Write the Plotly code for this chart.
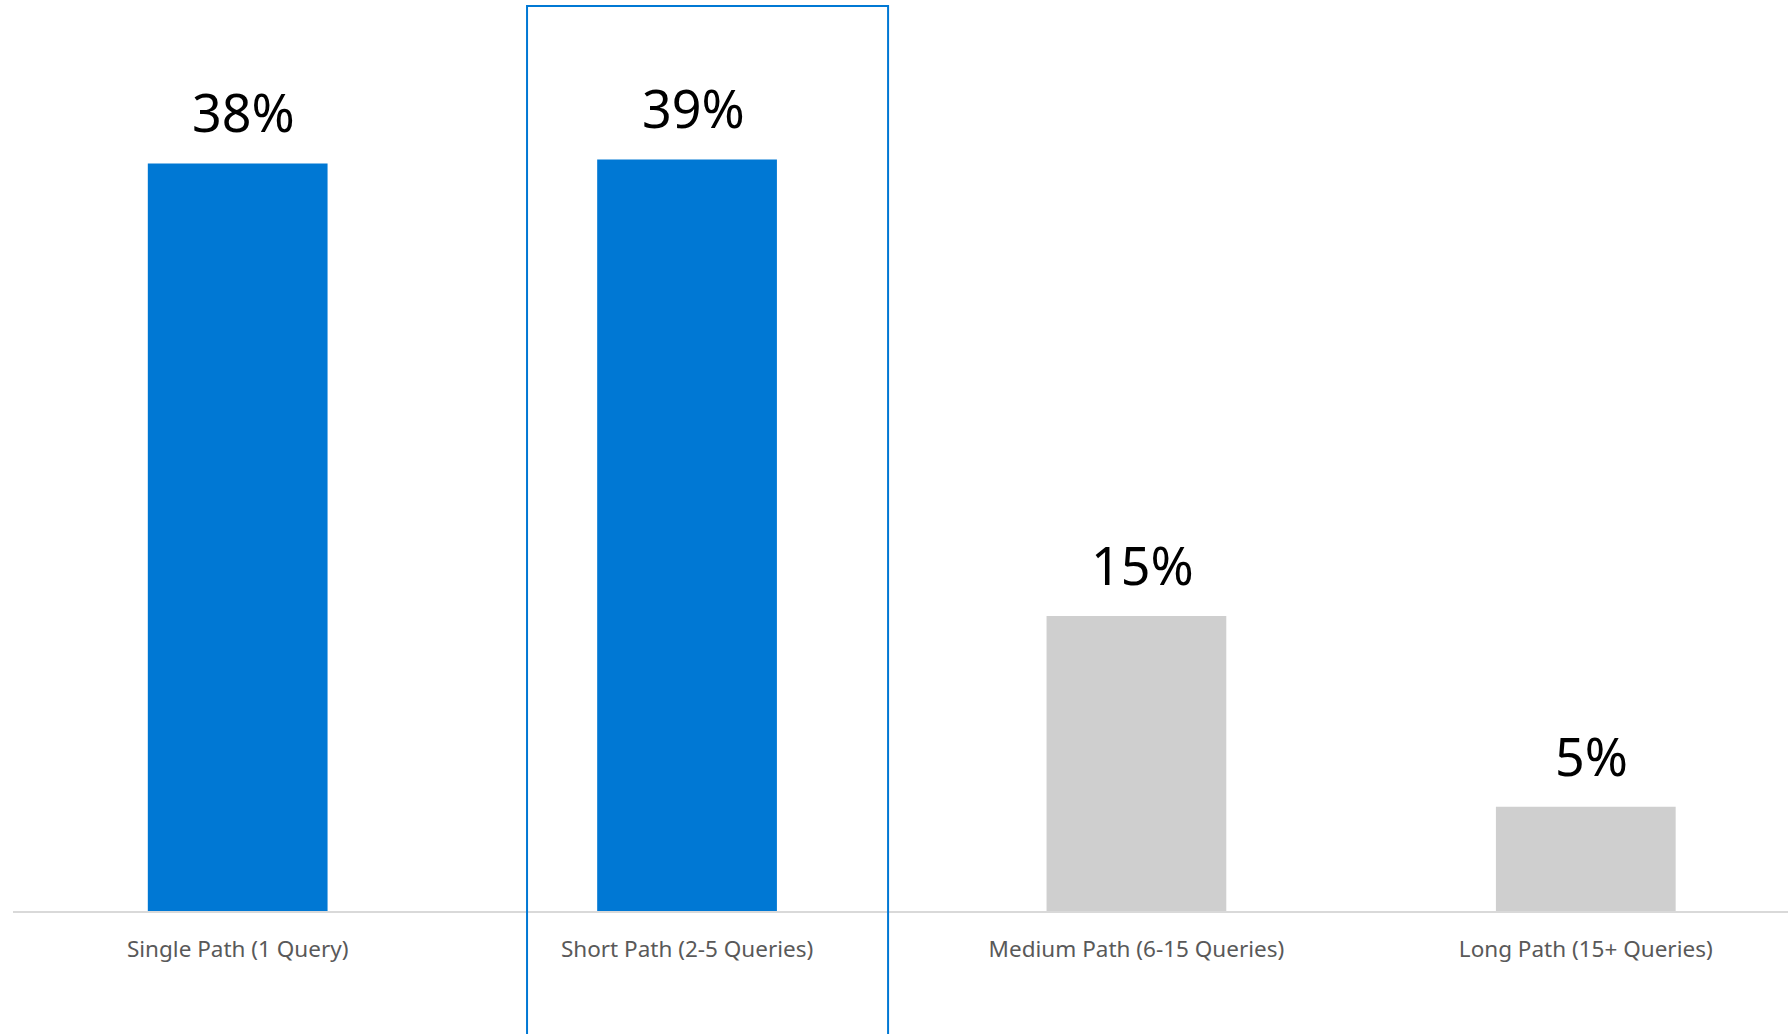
import plotly.graph_objects as go

categories = ["Single Path (1 Query)", "Short Path (2-5 Queries)",
              "Medium Path (6-15 Queries)", "Long Path (15+ Queries)"]
values = [38.0, 38.2, 15.0, 5.3]
value_labels = ["38%", "39%", "15%", "5%"]
bar_colors = ["#0078D4", "#0078D4", "#CFCFCF", "#CFCFCF"]

FONT = "Segoe UI, Noto Sans, sans-serif"

fig = go.Figure()
fig.add_trace(go.Bar(
    x=list(range(len(categories))),
    y=values,
    marker=dict(color=bar_colors, line=dict(width=0)),
    width=0.4,
    hoverinfo="skip",
))

for i, (v, t) in enumerate(zip(values, value_labels)):
    fig.add_annotation(
        x=i, y=v, text=t, showarrow=False,
        xref="x", yref="y", yanchor="bottom", xshift=6, yshift=14,
        font=dict(family=FONT, size=52, color="#000000"),
    )

# highlight frame around the second category
fig.add_shape(
    type="rect", xref="paper", yref="paper",
    x0=0.2896, x1=0.4930, y0=-0.3, y1=1.0,
    line=dict(color="#0078D4", width=2), fillcolor="rgba(0,0,0,0)",
    layer="above",
)

fig.update_layout(
    width=1788, height=1034,
    margin=dict(l=13, r=0, t=6, b=123),
    paper_bgcolor="white", plot_bgcolor="white",
    showlegend=False,
    xaxis=dict(
        range=[-0.5, 3.45],
        tickmode="array",
        tickvals=list(range(len(categories))),
        ticktext=categories,
        tickfont=dict(family=FONT, size=22.5, color="#595959"),
        showline=True, linecolor="#D9D9D9", linewidth=2,
        showgrid=False, zeroline=False, ticks="",
        ticklabelstandoff=17,
        fixedrange=True,
    ),
    yaxis=dict(
        range=[0, 46.0],
        visible=False, showgrid=False, zeroline=False,
        fixedrange=True,
    ),
)

fig.write_html(
    "out.html",
    config={"displayModeBar": False},
    post_script="document.body.style.margin='0';document.body.style.overflow='hidden';",
)
